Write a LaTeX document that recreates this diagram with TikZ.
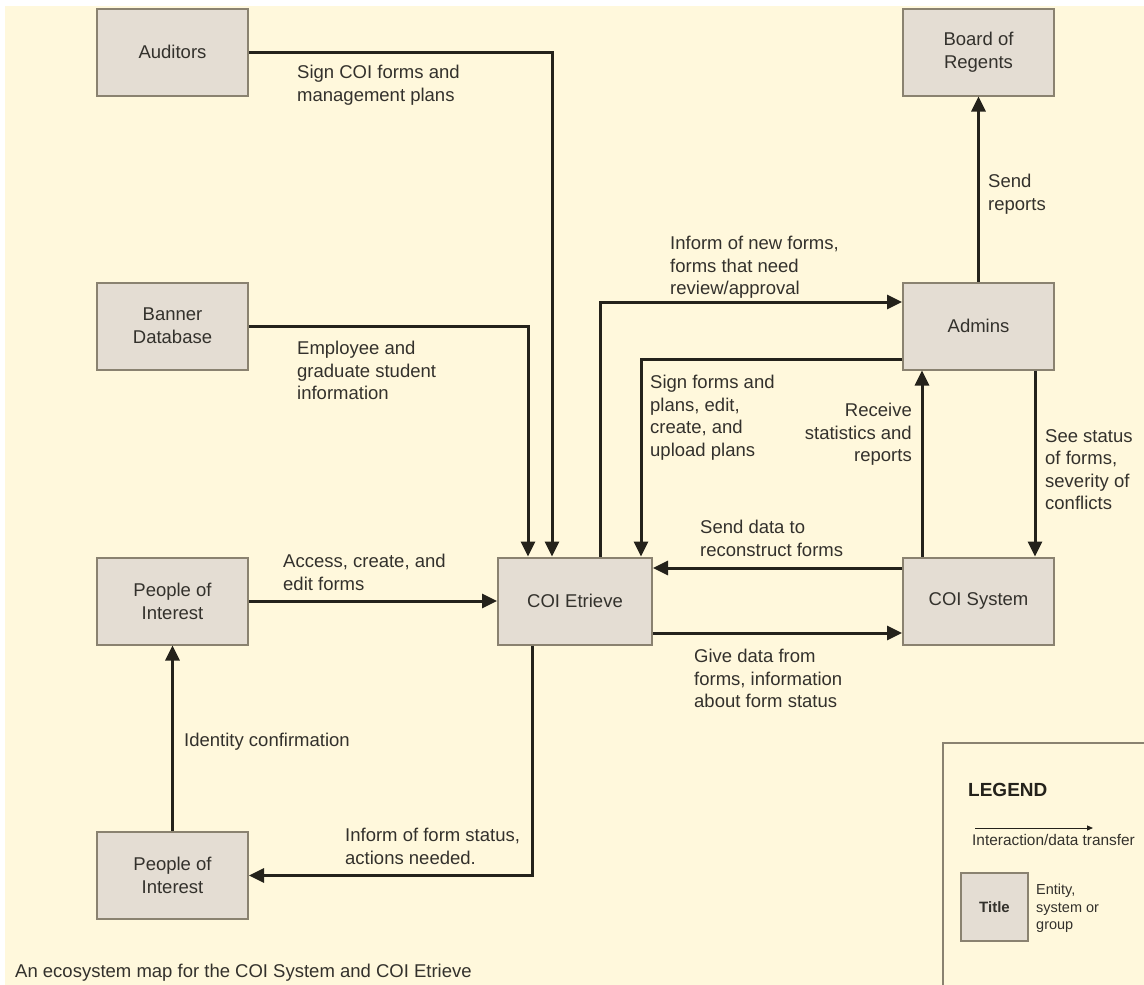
\documentclass[tikz,border=0pt]{standalone}
\usepackage{fontspec}
\setmainfont{Liberation Sans}
\usetikzlibrary{arrows.meta}
\definecolor{bg}{HTML}{FFF8DC}
\definecolor{boxfill}{HTML}{E4DDD3}
\definecolor{boxline}{HTML}{8A8270}
\definecolor{ink}{HTML}{24221B}
\definecolor{txt}{HTML}{33312C}
\begin{document}
\begin{tikzpicture}[x=1pt,y=-1pt,
  ent/.style={draw=boxline, fill=boxfill, line width=2pt, minimum width=151pt, minimum height=87pt, inner sep=0pt, align=center, text=txt, font=\fontsize{18.5}{23}\selectfont},
  flow/.style={draw=ink, line width=3pt, -{Triangle[length=15pt,width=14pt]}},
  lbl/.style={anchor=north west, inner sep=0pt, align=left, text=txt, font=\fontsize{18.5}{22.5}\selectfont},
  lblr/.style={lbl, anchor=north east, align=right},
  small/.style={inner sep=0pt, text=txt, font=\fontsize{14.5}{17.5}\selectfont}
]
\useasboundingbox (0,0) rectangle (1144,985);
\clip (0,0) rectangle (1144,985);
\fill[white] (0,0) rectangle (1144,985);
\fill[bg] (5,6) rectangle (1144,985);

% entities
\node[ent] (aud)  at (172.5,52)  {Auditors};
\node[ent] (bor)  at (978.5,52)  {Board of\\Regents};
\node[ent] (ban)  at (172.5,326) {Banner\\Database};
\node[ent] (adm)  at (978.5,326) {Admins};
\node[ent] (poi1) at (172.5,601) {People of\\Interest};
\node[ent, minimum width=154pt] (coi) at (575,601) {COI Etrieve};
\node[ent] (sys)  at (978.5,601) {COI System};
\node[ent] (poi2) at (172.5,875.5) {People of\\Interest};

% connectors
\draw[flow] (aud.east) -| ([xshift=-23pt]coi.north);
\draw[flow] (ban.east) -| ([xshift=-47pt]coi.north);
\draw[flow] (poi1.east) -- (coi.west);
\draw[flow] ([xshift=-43pt]coi.south) |- (poi2.east);
\draw[flow] (poi2.north) -- (poi1.south);
\draw[flow] ([xshift=25pt]coi.north) |- ([yshift=24pt]adm.west);
\draw[flow] ([yshift=-33pt]adm.west) -| ([xshift=66pt]coi.north);
\draw[flow] ([xshift=-56.5pt]sys.north) -- ([xshift=-56.5pt]adm.south);
\draw[flow] ([xshift=56.5pt]adm.south) -- ([xshift=56.5pt]sys.north);
\draw[flow] ([yshift=33pt]sys.west) -- ([yshift=33pt]coi.east);
\draw[flow] ([yshift=-32pt]coi.east) -- ([yshift=-32pt]sys.west);
\draw[flow] (adm.north) -- (bor.south);

% labels
\node[lbl] (l1) at (297,65) {Sign COI forms and\\management plans};
\node[lbl] (l2) at (297,341) {Employee and\\graduate student\\information};
\node[lbl] (l3) at (283,554) {Access, create, and\\edit forms};
\node[lbl] (l4) at (184,733) {Identity confirmation};
\node[lbl] (l5) at (345,828) {Inform of form status,\\actions needed.};
\node[lbl] (l6) at (670,236) {Inform of new forms,\\forms that need\\review/approval};
\node[lbl] (l7) at (650,375) {Sign forms and\\plans, edit,\\create, and\\upload plans};
\node[lblr] (l8) at (912,403) {Receive\\statistics and\\reports};
\node[lbl] (l9) at (1045,429) {See status\\of forms,\\severity of\\conflicts};
\node[lbl] (l10) at (700,520) {Send data to\\reconstruct forms};
\node[lbl] (l11) at (694,649) {Give data from\\forms, information\\about form status};
\node[lbl] (l12) at (988,174) {Send\\reports};
\node[lbl] (cap) at (15,964) {An ecosystem map for the COI System and COI Etrieve};

% legend
\draw[boxline, line width=2pt] (943,1000) -- (943,743) -- (1160,743);
\node[inner sep=0pt, anchor=west, text=ink, font=\bfseries\fontsize{19}{19}\selectfont] (leg) at (968,790) {LEGEND};
\coordinate (la) at (975,828);
\coordinate (lb) at (1093,828);
\draw[ink, line width=1pt, -{Triangle[length=6pt,width=5pt]}] (la) -- (lb);
\node[small, anchor=west, font=\fontsize{15.4}{18}\selectfont] (lt) at (972,840) {Interaction/data transfer};
\node[ent, minimum width=67pt, minimum height=68pt, font=\bfseries\fontsize{15}{17}\selectfont] (ttl) at (994.5,907) {Title};
\node[small, anchor=north west, align=left] (ent) at (1036,884) {Entity,\\system or\\group};
\end{tikzpicture}
\end{document}
